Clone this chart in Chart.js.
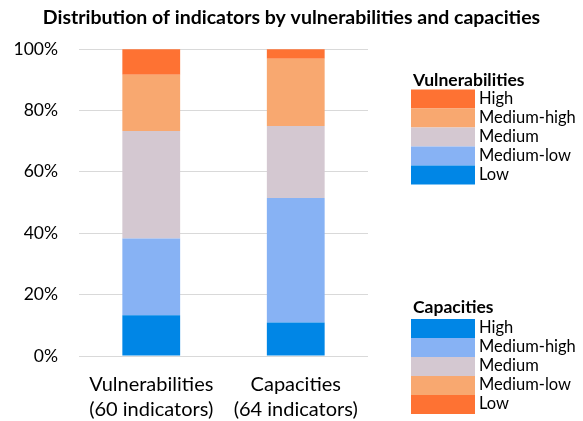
<!DOCTYPE html>
<html>
<head>
<meta charset="utf-8">
<script src="https://cdn.jsdelivr.net/npm/chart.js@4"></script>
<style>
  body { margin: 0; background: #fff; }
  #wrap { width: 583px; height: 421px; }
</style>
</head>
<body>
<div id="wrap"><canvas id="myChart" width="583" height="421"></canvas></div>
<script>
const chartTitle = 'Distribution of indicators by vulnerabilities and capacities';
const categories = [['Vulnerabilities', '(60 indicators)'], ['Capacities', '(64 indicators)']];
// shares (%) per stacked band, bottom to top
const vulnerabilityShares = [13.3, 25.0, 35.0, 18.3, 8.3];   // Low, Medium-low, Medium, Medium-high, High
const capacityShares = [10.9, 40.6, 23.4, 21.9, 3.1];        // High, Medium-high, Medium, Medium-low, Low
const vulnerabilityLevels = ['Low', 'Medium-low', 'Medium', 'Medium-high', 'High'];
const capacityLevels = ['High', 'Medium-high', 'Medium', 'Medium-low', 'Low'];
const yTicks = [0, 20, 40, 60, 80, 100];

const colors = ['#0086E6', '#87B2F4', '#D4C8D1', '#F8A870', '#FE7233'];
const font = 'Lato, "Noto Sans", sans-serif';

const datasets = colors.map((c, i) => ({
  label: 'Vulnerabilities: ' + vulnerabilityLevels[i] + ' / Capacities: ' + capacityLevels[i],
  data: [vulnerabilityShares[i], capacityShares[i]],
  backgroundColor: c,
  borderWidth: 0,
  categoryPercentage: 1,
  barPercentage: 0.4,
}));

// title across the whole canvas + the two legends at the right side
const sideLegends = {
  id: 'sideLegends',
  afterDraw(chart) {
    const ctx = chart.ctx;
    const ds = chart.data.datasets;

    ctx.save();
    ctx.fillStyle = '#000';
    ctx.textAlign = 'center';
    ctx.textBaseline = 'middle';
    ctx.font = 'bold 19.5px ' + font;
    ctx.fillText(chartTitle, 291.5, 18);
    ctx.restore();

    const drawBlock = (title, titleY, top, items) => {
      ctx.save();
      ctx.fillStyle = '#000';
      ctx.textBaseline = 'middle';
      ctx.textAlign = 'left';
      ctx.font = 'bold 17.5px ' + font;
      ctx.fillText(title, 413, titleY);
      ctx.font = '16.5px ' + font;
      items.forEach((it, i) => {
        const y = top + i * 19;
        ctx.fillStyle = it.color;
        ctx.fillRect(411, y, 64, 19);
        ctx.fillStyle = '#000';
        ctx.fillText(it.text, 479, y + 9);
      });
      ctx.restore();
    };
    const vul = vulnerabilityLevels.map((t, i) => ({ text: t, color: ds[i].backgroundColor })).reverse();
    const cap = capacityLevels.map((t, i) => ({ text: t, color: ds[i].backgroundColor }));
    drawBlock('Vulnerabilities', 80, 89.5, vul);
    drawBlock('Capacities', 307, 319, cap);
  },
};

new Chart(document.getElementById('myChart'), {
  type: 'bar',
  data: { labels: categories, datasets: datasets },
  options: {
    responsive: false,
    animation: false,
    devicePixelRatio: 1,
    layout: { padding: { left: 0, right: 215, top: 49, bottom: 0 } },
    scales: {
      x: {
        stacked: true,
        grid: { display: false },
        border: { display: false },
        ticks: {
          color: '#000',
          font: { family: font, size: 20, lineHeight: 1.25 },
          padding: 8,
          maxRotation: 0,
          autoSkip: false,
        },
        afterFit(scale) { scale.height = 65; },
      },
      y: {
        stacked: true,
        min: 0,
        max: 100,
        border: { display: false },
        grid: { color: '#D9D9D9', lineWidth: 1, drawTicks: false },
        afterBuildTicks(scale) { scale.ticks = yTicks.map(v => ({ value: v })); },
        ticks: {
          color: '#000',
          font: { family: font, size: 17.5 },
          padding: 21,
          callback: v => v + '%',
        },
        afterFit(scale) { scale.width = 79; },
      },
    },
    plugins: {
      legend: { display: false },
      tooltip: { enabled: false },
      title: { display: false },
    },
  },
  plugins: [sideLegends],
});
</script>
</body>
</html>
